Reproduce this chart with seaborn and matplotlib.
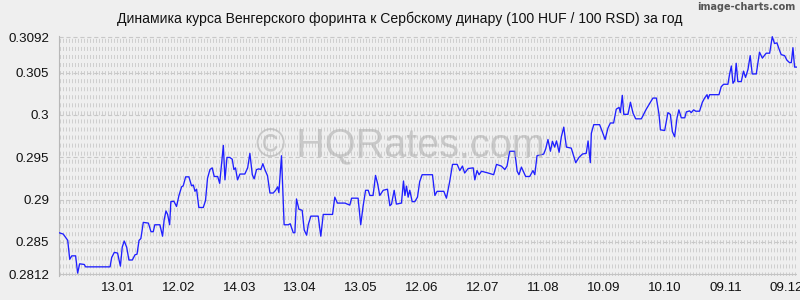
import numpy as np
import pandas as pd
import matplotlib
matplotlib.use("Agg")
import matplotlib.pyplot as plt
import seaborn as sns

# ---- data (day offset from start, rate) ----
days_a = [0.0, 2.1, 4.3, 5.3, 6.3, 8.2, 9.2, 10.2, 12.5, 13.1, 25.2, 26.0, 27.3, 28.9, 30.3,
          31.2, 32.2, 33.4, 34.5, 36.2, 37.5, 38.5, 39.5, 40.4, 41.6, 44.1, 45.4, 46.5, 47.3,
          49.8, 51.1, 51.9, 52.8, 53.6, 54.6, 55.2, 56.7, 58.0, 59.2, 60.5, 61.3, 62.5, 64.1,
          65.4, 66.3, 67.1, 67.9, 69.0, 71.2, 72.3, 73.3, 74.5, 75.6, 76.6, 78.3, 79.3, 80.2,
          81.1, 81.9, 82.9, 84.3, 85.5, 86.3, 87.1, 88.1, 89.3, 91.7, 93.1, 94.2, 95.4, 96.3,
          97.5, 98.6, 99.6, 100.6, 101.6, 102.9, 104.1, 105.7, 106.9, 107.9, 108.5, 109.8,
          111.1, 113.1, 114.1, 115.6, 116.4, 117.2, 118.4, 120.0, 121.0, 122.2, 123.0, 124.3,
          127.9, 129.2, 130.4, 135.0, 136.1, 137.4, 141.1, 143.5, 144.4, 147.6, 148.9, 150.1,
          151.3, 152.6, 153.4, 155.0, 156.2, 157.2, 158.3, 160.0, 162.1, 163.3, 164.1, 165.4,
          166.5, 169.0, 170.0, 170.7, 171.5, 172.3, 173.1, 174.3, 175.6, 176.9, 178.0, 179.2]
rates_a = [0.28609, 0.28593, 0.28519, 0.28295, 0.28336, 0.28336, 0.28132, 0.28242, 0.28234,
           0.28206, 0.28206, 0.28316, 0.28377, 0.28369, 0.28214, 0.28438, 0.28511, 0.28438,
           0.28287, 0.28287, 0.28348, 0.28356, 0.28519, 0.28540, 0.28731, 0.28723, 0.28621,
           0.28621, 0.28703, 0.28703, 0.28568, 0.28764, 0.28866, 0.28825, 0.28703, 0.28976,
           0.28980, 0.28919, 0.29049, 0.29151, 0.29163, 0.29269, 0.29269, 0.29163, 0.29172,
           0.29098, 0.29123, 0.28907, 0.28907, 0.28988, 0.29253, 0.29355, 0.29375, 0.29273,
           0.29273, 0.29192, 0.29416, 0.29640, 0.29233, 0.29498, 0.29498, 0.29477, 0.29355,
           0.29375, 0.29233, 0.29302, 0.29302, 0.29375, 0.29546, 0.29294, 0.29245, 0.29355,
           0.29363, 0.29355, 0.29424, 0.29355, 0.29282, 0.29078, 0.29078, 0.29110, 0.29151,
           0.29082, 0.29518, 0.28703, 0.28703, 0.28715, 0.28609, 0.28609, 0.29008, 0.28886,
           0.28874, 0.28642, 0.28580, 0.28703, 0.28805, 0.28805, 0.28568, 0.28825, 0.28825,
           0.29029, 0.28959, 0.28959, 0.28935, 0.29017, 0.29017, 0.28703, 0.28927, 0.29110,
           0.29110, 0.29049, 0.29049, 0.29286, 0.29192, 0.29049, 0.29110, 0.29123, 0.28927,
           0.28947, 0.29110, 0.28947, 0.28959, 0.29220, 0.29049, 0.29159, 0.29029, 0.29110,
           0.28976, 0.28976, 0.29029, 0.29212, 0.29294]
days_b = [184.3, 185.5, 186.6, 189.9, 191.2, 192.8, 194.2, 196.5, 197.8, 199.1, 200.2, 201.9,
          204.4, 205.2, 206.3, 207.3, 208.5, 211.8, 214.5, 215.9, 218.3, 220.0, 221.1, 222.4,
          224.9, 226.1, 227.0, 228.2, 230.3, 232.3, 233.9, 234.8, 235.9, 239.2, 240.2, 241.3,
          242.5, 243.5, 244.6, 245.5, 246.8, 247.9, 249.1, 250.4, 252.8, 255.0, 256.6, 258.3,
          260.2, 261.1, 262.2, 262.7, 263.9, 266.8, 268.1, 269.5, 270.9, 272.1, 273.7, 275.0,
          276.4, 277.0, 278.0, 278.7, 280.8, 282.0, 283.3, 284.6, 287.4, 289.8, 293.1, 294.8,
          296.1, 296.8, 298.9, 300.5, 301.7, 302.7, 303.8, 305.0, 305.9, 307.1, 308.8, 309.6,
          311.2, 312.0, 313.2, 314.2, 316.1, 317.5, 318.6, 319.8, 320.3, 321.1, 325.7, 326.8,
          328.0, 330.1, 330.9, 331.8, 332.6, 333.4, 334.2, 335.0, 336.7, 337.8, 338.8, 340.0,
          341.1, 342.1, 344.1, 345.7, 347.1, 349.0, 350.7, 352.0, 353.1, 354.3, 355.3, 356.4,
          358.1, 359.2, 360.5, 361.4, 362.2, 363.0, 364.2]
rates_b = [0.29294, 0.29049, 0.29098, 0.29098, 0.29017, 0.29212, 0.29416, 0.29416, 0.29343,
           0.29396, 0.29314, 0.29367, 0.29375, 0.29233, 0.29343, 0.29294, 0.29335, 0.29314,
           0.29294, 0.29416, 0.29396, 0.29355, 0.29396, 0.29571, 0.29571, 0.29335, 0.29294,
           0.29384, 0.29273, 0.29273, 0.29343, 0.29294, 0.29518, 0.29538, 0.29600, 0.29710,
           0.29571, 0.29689, 0.29620, 0.29693, 0.29559, 0.29742, 0.29856, 0.29620, 0.29608,
           0.29436, 0.29498, 0.29538, 0.29547, 0.29693, 0.29436, 0.29783, 0.29885, 0.29885,
           0.29803, 0.29710, 0.29844, 0.29905, 0.29905, 0.30068, 0.30089, 0.30027, 0.30231,
           0.30007, 0.30007, 0.30150, 0.30019, 0.29954, 0.29954, 0.30068, 0.30199, 0.30199,
           0.30007, 0.29824, 0.29816, 0.30027, 0.30007, 0.29803, 0.29742, 0.29966, 0.30060,
           0.29966, 0.29966, 0.30036, 0.30048, 0.30027, 0.30060, 0.30044, 0.30044, 0.30150,
           0.30199, 0.30239, 0.30190, 0.30239, 0.30239, 0.30333, 0.30362, 0.30362, 0.30476,
           0.30578, 0.30374, 0.30402, 0.30610, 0.30394, 0.30394, 0.30517, 0.30443, 0.30537,
           0.30700, 0.30484, 0.30484, 0.30741, 0.30671, 0.30729, 0.30729, 0.30924, 0.30843,
           0.30851, 0.30781, 0.30712, 0.30700, 0.30647, 0.30618, 0.30618, 0.30794, 0.30565,
           0.30565]

y_ticks = [0.2812, 0.285, 0.29, 0.295, 0.3, 0.305, 0.3092]
y_tick_labels = ["0.2812", "0.285", "0.29", "0.295", "0.3", "0.305", "0.3092"]
x_ticks = [29, 59, 89, 119, 149, 179, 209, 239, 269, 299, 329, 359]
x_tick_labels = ["13.01", "12.02", "14.03", "13.04", "13.05", "12.06", "12.07",
                 "11.08", "10.09", "10.10", "09.11", "09.12"]
title = "Динамика курса Венгерского форинта к Сербскому динару (100 HUF / 100 RSD) за год"

df = pd.DataFrame({"day": days_a + days_b, "rate": rates_a + rates_b})

sns.set_style("white")
plt.rcParams["font.family"] = ["Liberation Sans", "DejaVu Sans"]
plt.rcParams["lines.scale_dashes"] = False

BG = "#efefef"
fig = plt.figure(figsize=(8, 3), dpi=100, facecolor=BG)
ax = fig.add_axes([59 / 800, 1 - 276 / 300, 738 / 800, 240 / 300])
ax.set_facecolor(BG)

y0, y1 = 0.28098, 0.30932
x0, x1 = 0, 364.2

# dense vertical dashed grid (image-charts style)
ax.vlines(np.arange(0.7, x1, 1.48), y0, y1, colors="#cfcfcf", linewidth=0.72,
          linestyles=[(0, (2.9, 2.9))], zorder=0)
# horizontal dashed grid lines at ticks
for yv in y_ticks:
    if yv == y_ticks[0]:
        ax.axhline(yv, color="#c4c4c4", linewidth=0.8, zorder=1)
    else:
        ax.axhline(yv, color="#c8c8c8", linewidth=0.8, linestyle=(0, (3, 2)), zorder=1)

sns.lineplot(data=df, x="day", y="rate", ax=ax, color="#1f1fff", linewidth=0.95,
             estimator=None, sort=False, zorder=3)

ax.set_xlim(x0, x1)
ax.set_ylim(y0, y1)
ax.set_xticks(x_ticks)
ax.set_xticklabels(x_tick_labels)
ax.set_yticks(y_ticks)
ax.set_yticklabels(y_tick_labels)
ax.set_xlabel("")
ax.set_ylabel("")
ax.tick_params(axis="x", length=0, pad=4, labelsize=9.6, colors="#111111")
ax.tick_params(axis="y", length=6, width=0.8, color="#c4c4c4", pad=1, labelsize=9.6,
               colors="#111111")
ax.tick_params(axis="y", color="#c4c4c4")
for s in ["top", "right", "bottom"]:
    ax.spines[s].set_visible(False)
ax.spines["left"].set_color("#b8b8b8")
ax.spines["left"].set_linewidth(0.8)

fig.text(0.5, 1 - 19 / 300, title, ha="center", va="center", fontsize=10.1, color="#111111")
fig.text(795 / 800, 1 - 7 / 300, "image-charts.com", ha="right", va="center", fontsize=7,
         color="#555555", family=["DejaVu Sans Condensed", "DejaVu Sans"], fontweight="bold")
fig.text(400 / 800, 1 - 146 / 300, "© HQRates.com", ha="center", va="center", fontsize=28.5,
         color="#b0b0b0", alpha=0.6, zorder=5)

fig.savefig("out.png", dpi=100, facecolor=BG)
